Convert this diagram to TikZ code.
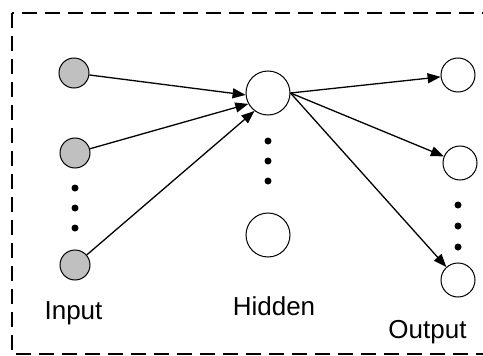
\documentclass[tikz,border=0pt]{standalone}
\usepackage{fontspec}
\setmainfont{Liberation Sans}
\usepackage{tikz}
\usetikzlibrary{arrows.meta}
\definecolor{netInput}{HTML}{C0C0C0}
\definecolor{netLine}{HTML}{000000}

\begin{document}
\begin{tikzpicture}[x=1pt, y=-1pt,
    inputnode/.style={circle, draw=netLine, fill=netInput, line width=1pt, minimum size=30pt, inner sep=0pt},
    hiddennode/.style={circle, draw=netLine, fill=white, line width=1pt, minimum size=44pt, inner sep=0pt},
    outputnode/.style={circle, draw=netLine, fill=white, line width=1pt, minimum size=34pt, inner sep=0pt},
    netdot/.style={circle, fill=netLine, minimum size=7pt, inner sep=0pt},
    layername/.style={font=\fontsize{26}{30}\selectfont, anchor=base, inner sep=0pt},
    arrow/.style={-{Triangle[length=13pt,width=10pt]}, line width=1.3pt, color=netLine},
    boxframe/.style={dash pattern=on 15pt off 8pt, line width=2pt, color=netLine}
]
\useasboundingbox (0,0) rectangle (483,356);
\clip (0,0) rectangle (483,356);

% Frame
\draw[boxframe] (12,13) rectangle (500,354);

% Input Layer
\node[inputnode] (in1) at (74,73) {};
\node[inputnode] (in2) at (75,153) {};
\node[inputnode] (in3) at (75,265) {};
\node[netdot] (indot1) at (75,188) {};
\node[netdot] (indot2) at (75,208) {};
\node[netdot] (indot3) at (75,228) {};

% Hidden Layer
\node[hiddennode] (hid1) at (268,93) {};
\node[hiddennode] (hid2) at (268,235) {};
\node[netdot] (hiddot1) at (268,141) {};
\node[netdot] (hiddot2) at (268,161) {};
\node[netdot] (hiddot3) at (268,181) {};

% Output Layer
\node[outputnode] (out1) at (458,75) {};
\node[outputnode] (out2) at (460,163) {};
\node[outputnode] (out3) at (458,280) {};
\node[netdot] (outdot1) at (458,205) {};
\node[netdot] (outdot2) at (458,226) {};
\node[netdot] (outdot3) at (458,247) {};

% Connections
\draw[arrow] (in1) -- (hid1.185);
\draw[arrow] (in2) -- (hid1.209);
\draw[arrow] (in3) -- (hid1.233);
\draw[arrow] (hid1.east) -- (out1);
\draw[arrow] (hid1.east) -- (out2);
\draw[arrow] (hid1.east) -- (out3);

% Labels
\node[layername] (inlabel) at (73.5,319) {Input};
\node[layername] (hidlabel) at (274,315) {Hidden};
\node[layername] (outlabel) at (427.5,338) {Output};

\end{tikzpicture}
\end{document}
